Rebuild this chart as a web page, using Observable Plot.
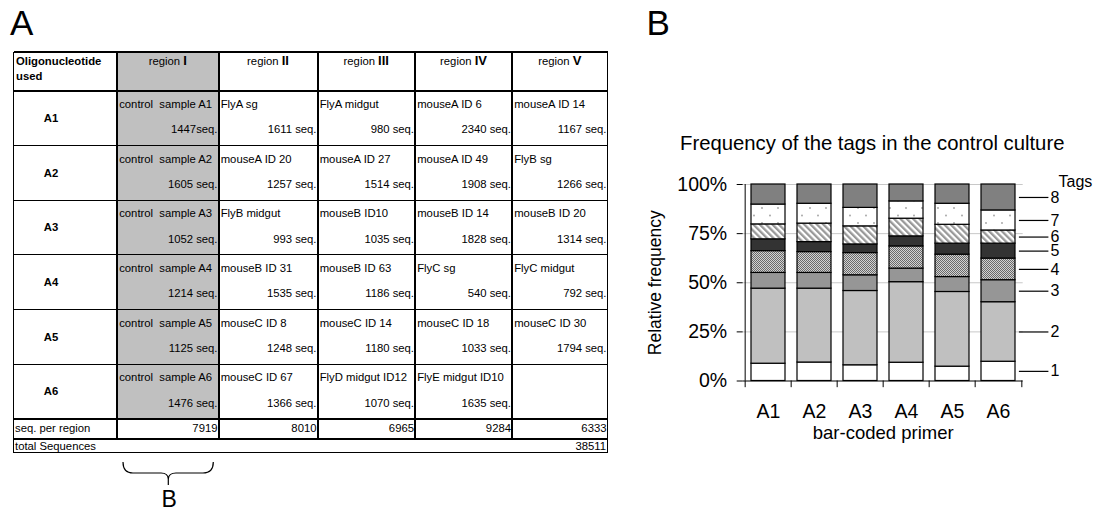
<!DOCTYPE html>
<html>
<head>
<meta charset="utf-8">
<script src="https://cdn.jsdelivr.net/npm/d3@7"></script>
<script src="https://cdn.jsdelivr.net/npm/@observablehq/plot@0.6"></script>
<style>
  html, body { margin: 0; padding: 0; background: #fff; }
  #page { position: relative; width: 1096px; height: 512px; overflow: hidden;
          font-family: "Liberation Sans", Arial, sans-serif; color: #000; }
  .t { position: absolute; line-height: 1; white-space: pre; }
  .t span { line-height: 0; }
  .ln { position: absolute; background: #000; }
  #chart { position: absolute; left: 630px; top: 160px; }
  #brace { position: absolute; left: 0; top: 0; }
</style>
</head>
<body>
<div id="page"></div>
<script>
// ---------- Panel A: sequencing layout ----------
const regions = ["I", "II", "III", "IV", "V"];
const primers = ["A1", "A2", "A3", "A4", "A5", "A6"];

// sample names per region (rows A1..A6)
const namesRegionI   = ["control  sample A1", "control  sample A2", "control  sample A3", "control  sample A4", "control  sample A5", "control  sample A6"];
const namesRegionII  = ["FlyA sg", "mouseA ID 20", "FlyB midgut", "mouseB ID 31", "mouseC ID 8", "mouseC ID 67"];
const namesRegionIII = ["FlyA midgut", "mouseA ID 27", "mouseB ID10", "mouseB ID 63", "mouseC ID 14", "FlyD midgut ID12"];
const namesRegionIV  = ["mouseA ID 6", "mouseA ID 49", "mouseB ID 14", "FlyC sg", "mouseC ID 18", "FlyE midgut ID10"];
const namesRegionV   = ["mouseA ID 14", "FlyB sg", "mouseB ID 20", "FlyC midgut", "mouseC ID 30", null];

// sequence counts per region (rows A1..A6)
const seqRegionI   = [1447, 1605, 1052, 1214, 1125, 1476];
const seqRegionII  = [1611, 1257, 993, 1535, 1248, 1366];
const seqRegionIII = [980, 1514, 1035, 1186, 1180, 1070];
const seqRegionIV  = [2340, 1908, 1828, 540, 1033, 1635];
const seqRegionV   = [1167, 1266, 1314, 792, 1794, null];

const sampleNames = [namesRegionI, namesRegionII, namesRegionIII, namesRegionIV, namesRegionV];
const seqCounts = [seqRegionI, seqRegionII, seqRegionIII, seqRegionIV, seqRegionV];

// ---------- Panel B: tag frequencies in the control culture (%) ----------
const tagNames = ["1", "2", "3", "4", "5", "6", "7", "8"];
const tag1 = [8.8, 9.4, 8.0, 9.3, 7.3, 9.8];
const tag2 = [38.2, 37.6, 37.8, 41.0, 38.0, 30.3];
const tag3 = [8.0, 8.0, 8.0, 6.9, 7.6, 11.2];
const tag4 = [11.1, 10.6, 11.3, 11.3, 11.4, 11.0];
const tag5 = [6.0, 5.1, 4.4, 5.1, 5.6, 7.6];
const tag6 = [7.6, 9.4, 9.2, 9.0, 9.6, 6.7];
const tag7 = [10.1, 10.1, 9.4, 8.8, 10.7, 10.2];
const tag8 = [10.2, 9.8, 11.9, 8.6, 9.8, 13.2];
const tagSeries = [tag1, tag2, tag3, tag4, tag5, tag6, tag7, tag8];
const yTicks = [0, 25, 50, 75, 100];

const page = document.getElementById("page");

function text(str, x, base, {size = 11.3, weight = "normal", anchor = "start", html = false} = {}) {
  const el = document.createElement("div");
  el.className = "t";
  el.style.fontSize = size + "px";
  el.style.fontWeight = weight;
  el.style.top = (base - 0.8465 * size) + "px";
  if (anchor === "start") el.style.left = x + "px";
  else if (anchor === "end") el.style.right = (1096 - x) + "px";
  else { el.style.left = x + "px"; el.style.transform = "translateX(-50%)"; }
  if (html) el.innerHTML = str; else el.textContent = str;
  page.appendChild(el);
}
function box(x1, y1, x2, y2, color) {
  const el = document.createElement("div");
  el.className = "ln";
  Object.assign(el.style, {left: x1 + "px", top: y1 + "px", width: (x2 - x1) + "px", height: (y2 - y1) + "px", background: color});
  page.appendChild(el);
}
const hline = (x1, x2, y, w) => box(x1, y - w / 2, x2, y + w / 2, "#000");
const vline = (x, y1, y2, w) => box(x - w / 2, y1, x + w / 2, y2, "#000");

// panel letters
text("A", 10, 35, {size: 35});
text("B", 646.5, 35, {size: 35});

// table geometry
const colX = [13.5, 117, 218.5, 317.5, 415, 512, 607.5];
const headTop = 52, headBottom = 90.7, rowH = 54.7;
const rowTop = i => headBottom + i * rowH;
const seqTop = rowTop(6), seqBottom = 439.3, totalBottom = 452.7;

// shaded control column
box(colX[1], headTop, colX[2], seqTop, "#c0c0c0");

// horizontal rules
hline(colX[0], colX[6], headTop, 1.3);
hline(colX[0], colX[6], headBottom, 2);
for (let i = 1; i < 6; i++) hline(colX[0], colX[6], rowTop(i), 1.2);
hline(colX[0], colX[6], seqTop, 2);
hline(colX[0], colX[6], seqBottom, 2);
hline(colX[0], colX[6], totalBottom, 1.2);
// vertical rules
vline(colX[0], headTop, totalBottom, 1.2);
vline(colX[1], headTop, seqBottom, 1.2);
for (let c = 2; c <= 5; c++) vline(colX[c], headTop, seqBottom, 2);
vline(colX[6], headTop, totalBottom, 1.5);

// header row
text("Oligonucleotide", 16, 65.7, {weight: "bold"});
text("used", 16, 80.7, {weight: "bold"});
regions.forEach((r, i) => {
  text(`region <span style="font-weight:bold;font-size:13px">${r}</span>`, (colX[i + 1] + colX[i + 2]) / 2, 65.7, {anchor: "middle", html: true});
});

// data rows
primers.forEach((p, j) => {
  const T = rowTop(j);
  text(p, 51, T + 31.8, {weight: "bold", anchor: "middle"});
  regions.forEach((r, i) => {
    const name = sampleNames[i][j], n = seqCounts[i][j];
    if (name != null) text(name, colX[i + 1] + 2.2, T + 17.8);
    if (n != null) text(n + (i === 0 && j === 0 ? "seq." : " seq."), colX[i + 2] - 1, T + 43, {anchor: "end"});
  });
});

// totals
text("seq. per region", 15, 433);
const regionSums = seqCounts.map(s => d3.sum(s));
regionSums.forEach((s, i) => text(String(s), colX[i + 2] - 1, 433, {anchor: "end"}));
text("total Sequences", 15, 450.5);
text(String(d3.sum(regionSums)), colX[6] - 1.5, 450.5, {anchor: "end"});

// brace marking the control column, with its panel reference
const brace = d3.select(page).append("svg").attr("id", "brace").attr("width", 1096).attr("height", 512);
brace.append("path")
  .attr("d", "M123,462 Q123,473 133,473 L161,473 Q168,473 168.3,479 L168.3,485 M168.3,479 Q168.6,473 176,473 L203,473 Q213.3,473 213.3,462")
  .attr("fill", "none").attr("stroke", "#000").attr("stroke-width", 1.2);
text("B", 161.5, 507.5, {size: 23});

// ---------- Panel B chart ----------
text("Frequency of the tags in the control culture", 680, 150, {size: 20.3});

const rows = tagSeries.flatMap((vals, i) => vals.map((v, j) => ({primer: primers[j], tag: tagNames[i], value: v})));
const a6 = tagSeries.map(s => s[5]);
const a6Tops = Array.from(d3.cumsum(a6));
const legendRows = tagNames.map((t, i) => ({primer: "A6", tag: t, y: a6Tops[i] - a6[i] / 2}));
const tagFills = ["#ffffff", "#c0c0c0", "#969696", "url(#tag4)", "#333333", "url(#tag6)", "url(#tag7)", "#808080"];

const W = 466, H = 300, ML = 112.7, MR = 73.3, MT = 24, MB = 79.5;
const step = (W - ML - MR) / primers.length;

const chart = Plot.plot({
  width: W, height: H,
  marginLeft: ML, marginRight: MR, marginTop: MT, marginBottom: MB,
  style: {fontFamily: "'Liberation Sans', Arial, sans-serif", fontSize: "19.5px", color: "#000", background: "transparent", overflow: "visible"},
  x: {domain: primers, paddingInner: 0.26, paddingOuter: 0.13},
  y: {domain: [0, 100]},
  color: {type: "ordinal", domain: tagNames, range: tagFills},
  marks: [
    Plot.ruleY(yTicks.filter(d => d > 0), {stroke: "#c8c8c8"}),
    Plot.barY(rows, {x: "primer", y: "value", fill: "tag", stroke: "#000", strokeWidth: 1.2}),
    Plot.ruleY([0], {stroke: "#000"}),
    Plot.ruleX(["A1"], {y1: 0, y2: 100, dx: -step / 2, stroke: "#000"}),
    Plot.ruleX(primers, {y1: 0, y2: -3.4, dx: -step / 2, stroke: "#000"}),
    Plot.ruleX(["A6"], {y1: 0, y2: -3.4, dx: step / 2, stroke: "#000"}),
    Plot.axisY({ticks: yTicks, tickFormat: d => d + "%", tickSize: 6, tickPadding: 10, label: null}),
    Plot.axisX({tickSize: 0, tickPadding: 23, label: null}),
    Plot.text(["Relative frequency"], {frameAnchor: "left", textAnchor: "middle", rotate: -90, dx: -88.3, fontSize: 17.5}),
    Plot.text(["bar-coded primer"], {frameAnchor: "bottom", dy: 57.7, fontSize: 18.5}),
    Plot.text(["Tags"], {frameAnchor: "top-right", dx: 35.3, dy: -9.1, textAnchor: "start", fontSize: 16}),
    Plot.tickY(legendRows, {x: "primer", y: "y", dx: 37.9, insetRight: 4.5, stroke: "#000", strokeWidth: 1.2}),
    Plot.text(legendRows, {x: "primer", y: "y", text: "tag", dx: 52, textAnchor: "start", fontSize: 16})
  ]
});
chart.id = "chart";

d3.select(chart).insert("defs", ":first-child").html(`
  <pattern id="tag4" width="2" height="2" patternUnits="userSpaceOnUse">
    <rect width="2" height="2" fill="#d2d2d2"/>
    <rect width="1" height="1" fill="#6a6a6a"/>
    <rect x="1" y="1" width="1" height="1" fill="#6a6a6a"/>
  </pattern>
  <pattern id="tag6" width="4.5" height="4.5" patternUnits="userSpaceOnUse" patternTransform="rotate(-45)">
    <rect width="4.5" height="4.5" fill="#ffffff"/>
    <rect width="2.3" height="4.5" fill="#999999"/>
  </pattern>
  <pattern id="tag7" width="16" height="15" patternUnits="userSpaceOnUse">
    <rect width="16" height="15" fill="#ffffff"/>
    <circle cx="4" cy="3" r="0.9" fill="#a0a0a0"/>
    <circle cx="12" cy="10.5" r="0.9" fill="#a0a0a0"/>
  </pattern>`);

page.appendChild(chart);
</script>
</body>
</html>
